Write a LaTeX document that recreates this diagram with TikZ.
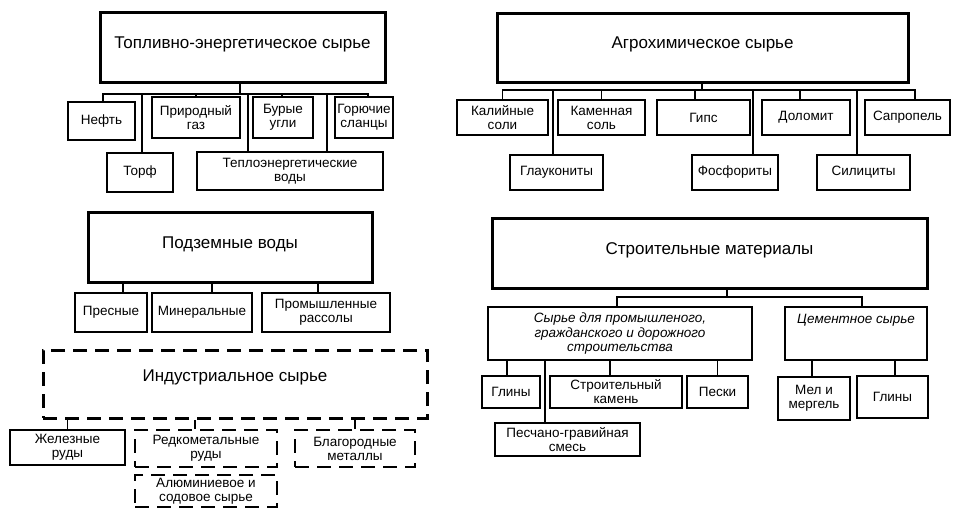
\documentclass[tikz,border=0pt]{standalone}
\usepackage{fontspec}
\setmainfont{Liberation Sans}
\tikzset{
  head/.style={draw, line width=3pt, inner sep=2pt, font=\fontsize{17}{19}\selectfont},
  leaf/.style={draw, line width=2.6pt, inner sep=1pt, align=center, font=\fontsize{13.5}{14}\selectfont},
  dashleaf/.style={leaf, dash pattern=on 14pt off 8pt},
  link/.style={line width=1.2pt},
}
\begin{document}
\begin{tikzpicture}[x=1pt,y=-1pt]
  \useasboundingbox (0,0) rectangle (955,509);

  % fuel and energy raw materials
  \node[head, minimum width=285pt, minimum height=70pt, text depth=9pt] (fuel) at (242.5,47) {Топливно-энергетическое сырье};
  \node[leaf, minimum width=67pt, minimum height=38pt] (neft) at (101.5,121) {Нефть};
  \node[leaf, minimum width=88pt, minimum height=41pt] (gaz) at (196,117.5) {Природный\\газ};
  \node[leaf, minimum width=60pt, minimum height=41pt] (ugli) at (283,117.5) {Бурые\\угли};
  \node[leaf, minimum width=58pt, minimum height=41pt] (slancy) at (364,117.5) {Горючие\\сланцы};
  \node[leaf, minimum width=66pt, minimum height=39pt] (torf) at (140,172.5) {Торф};
  \node[leaf, minimum width=186pt, minimum height=38pt] (teplo) at (290,171) {Теплоэнергетические\\воды};
  \coordinate (fuelbus) at (240,94);
  \draw[link] (fuelbus) -- (fuelbus |- fuel.south);
  \foreach \n/\dx in {neft/1.5, gaz/0, ugli/-1, slancy/4, torf/2, teplo/-42, teplo/37}
    \draw[link] ([xshift=\dx pt]\n.north) |- (fuelbus);

  % agrochemical raw materials
  \node[head, minimum width=411pt, minimum height=69pt, text depth=9pt] (agro) at (702.5,47.5) {Агрохимическое сырье};
  \node[leaf, minimum width=91pt, minimum height=35pt] (kali) at (502.5,117.5) {Калийные\\соли};
  \node[leaf, minimum width=87pt, minimum height=35pt] (kamsol) at (601.5,117.5) {Каменная\\соль};
  \node[leaf, minimum width=93pt, minimum height=35pt] (gips) at (703.5,117.5) {Гипс};
  \node[leaf, minimum width=88pt, minimum height=35pt] (dolomit) at (806,117.5) {Доломит};
  \node[leaf, minimum width=85pt, minimum height=35pt] (sapropel) at (907.5,117.5) {Сапропель};
  \node[leaf, minimum width=93pt, minimum height=35pt] (glauk) at (556.5,172.5) {Глаукониты};
  \node[leaf, minimum width=86pt, minimum height=35pt] (fosf) at (735,172.5) {Фосфориты};
  \node[leaf, minimum width=93pt, minimum height=35pt] (silic) at (863.5,172.5) {Силициты};
  \coordinate (agrobus) at (702,90);
  \draw[link] (agrobus) -- (agrobus |- agro.south);
  \foreach \n/\dx in {kali/0, kamsol/0, gips/-8.5, dolomit/-6, sapropel/7.5, glauk/-3.5, fosf/18, silic/-6.5}
    \draw[link] ([xshift=\dx pt]\n.north) |- (agrobus);

  % groundwater
  \node[head, minimum width=284pt, minimum height=70pt, text depth=9pt] (podz) at (230,247) {Подземные воды};
  \node[leaf, minimum width=72pt, minimum height=39pt] (presn) at (111,312.5) {Пресные};
  \node[leaf, minimum width=100pt, minimum height=39pt] (miner) at (202,312.5) {Минеральные};
  \node[leaf, minimum width=128pt, minimum height=39pt] (prom) at (326,312.5) {Промышленные\\рассолы};
  \foreach \n/\dx in {presn/12, miner/10, prom/-8}
    \draw[link] ([xshift=\dx pt]\n.north) coordinate (p) -- (p |- podz.south);

  % industrial raw materials
  \node[head, dash pattern=on 14pt off 8pt, minimum width=384pt, minimum height=68pt, text depth=17pt] (indus) at (235,384) {Индустриальное сырье};
  \node[leaf, minimum width=115pt, minimum height=35pt] (zhelez) at (67.5,447.5) {Железные\\руды};
  \node[dashleaf, minimum width=142pt, minimum height=37pt] (redk) at (206,448.5) {Редкометальные\\руды};
  \node[dashleaf, minimum width=120pt, minimum height=37pt] (blag) at (355,448.5) {Благородные\\металлы};
  \node[dashleaf, minimum width=142pt, minimum height=32pt] (alum) at (206,491) {Алюминиевое и\\содовое сырье};
  \foreach \n/\dx in {zhelez/0, redk/-11, blag/0}
    \draw[link] ([xshift=\dx pt]\n.north) coordinate (p) -- (p |- indus.south);

  % building materials
  \node[head, minimum width=435pt, minimum height=70pt, text depth=9pt] (stroy) at (709.5,253) {Строительные материалы};
  \node[leaf, font=\fontsize{13.5}{14.5}\selectfont\itshape, minimum width=264pt, minimum height=53pt] (syrie) at (620,333.5) {Сырье для промышленого,\\гражданского и дорожного\\строительства};
  \node[leaf, font=\fontsize{13.5}{14.5}\selectfont\itshape, minimum width=142pt, minimum height=53pt, text depth=30pt] (cement) at (856,333.5) {Цементное сырье};
  \coordinate (stroybus) at (727,297);
  \draw[link] (stroybus) -- (stroybus |- stroy.south);
  \foreach \n/\dx in {syrie/-3, cement/6}
    \draw[link] ([xshift=\dx pt]\n.north) |- (stroybus);
  \node[leaf, minimum width=58pt, minimum height=32pt] (glina) at (511,392) {Глины};
  \node[leaf, minimum width=132pt, minimum height=32pt] (kamen) at (616,392) {Строительный\\камень};
  \node[leaf, minimum width=61pt, minimum height=32pt] (peski) at (717.5,392) {Пески};
  \node[leaf, minimum width=145pt, minimum height=33pt] (pgs) at (567.5,439.5) {Песчано-гравийная\\смесь};
  \node[leaf, minimum width=72pt, minimum height=43pt] (mel) at (814,398.5) {Мел и\\мергель};
  \node[leaf, minimum width=71pt, minimum height=42pt] (glinb) at (892.5,397) {Глины};
  \foreach \n/\dx in {glina/-4, kamen/-6, peski/0, pgs/-22.5}
    \draw[link] ([xshift=\dx pt]\n.north) coordinate (p) -- (p |- syrie.south);
  \foreach \n/\dx in {mel/-2, glinb/2.5}
    \draw[link] ([xshift=\dx pt]\n.north) coordinate (p) -- (p |- cement.south);
\end{tikzpicture}
\end{document}
